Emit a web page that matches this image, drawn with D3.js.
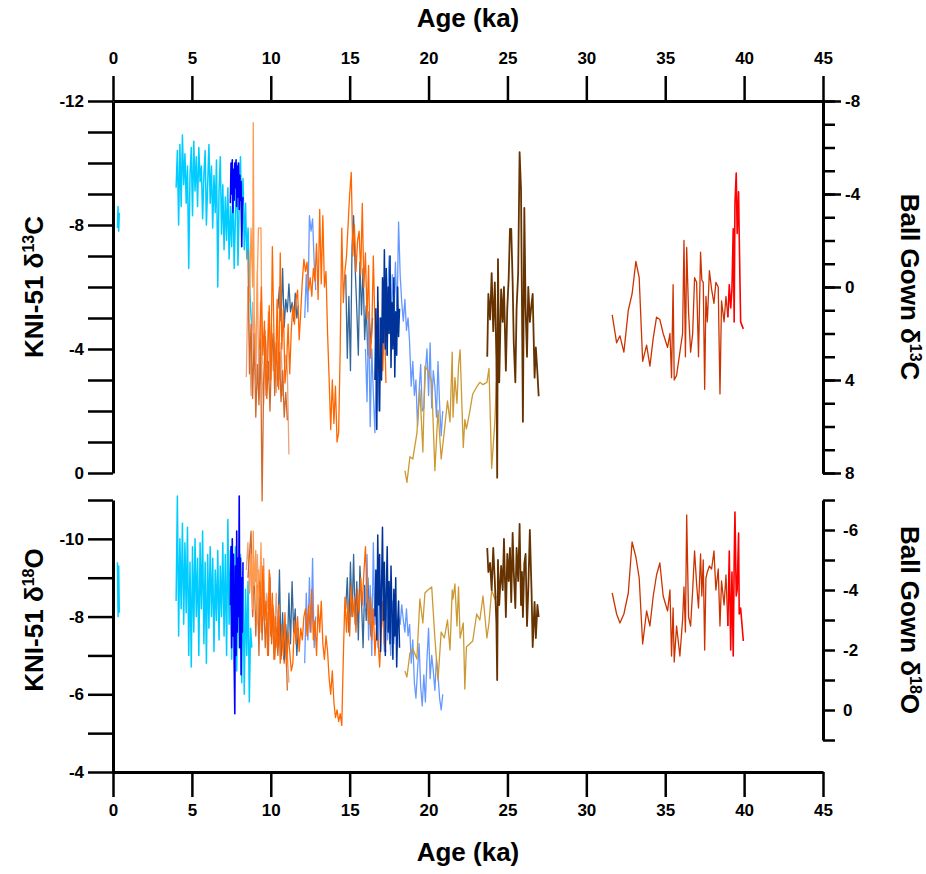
<!DOCTYPE html>
<meta charset="utf-8">
<style>
body { margin: 0; background: #fff; }
svg { display: block; }
.axis path, .axis line { stroke: #000; stroke-width: 2.5px; }
.axis path.domain { stroke-width: 3px; }
.axis text { font: bold 17px "Liberation Sans", Arial, sans-serif; fill: #000; }
.title { font: bold 26px "Liberation Sans", Arial, sans-serif; fill: #000; }
.line { fill: none; stroke-linejoin: round; }
</style>
<body>
<script src="https://d3js.org/d3.v7.min.js"></script>
<script>

// ---- KNI-51 records (left axes) ----
var cyanAge = [0.28, 0.32, 0.36, 0.40, 2.00,
  4.00, 4.08, 4.16, 4.24, 4.32, 4.40, 4.48, 4.56, 4.64, 4.72,
  4.80, 4.88, 4.96, 5.04, 5.12, 5.20, 5.28, 5.36, 5.44, 5.52,
  5.60, 5.68, 5.76, 5.84, 5.92, 6.00, 6.08, 6.16, 6.24, 6.32,
  6.40, 6.48, 6.56, 6.64, 6.72, 6.80, 6.88, 6.96, 7.04, 7.12,
  7.20, 7.28, 7.36, 7.44, 7.52, 7.60, 7.68, 7.76, 7.84, 7.92,
  8.00, 8.08, 8.16, 8.24, 8.32, 8.40, 8.48, 8.56, 8.64, 8.72,
  8.80];
var cyanC = [-7.9, -8.6, -7.8, -8.4, null,
  -9.2, -10.4, -8.0, -10.6, -8.6, -10.9, -9.3, -10.3, -8.7, -9.9,
  -6.6, -9.6, -10.5, -8.3, -10.7, -9.1, -10.2, -8.6, -10.5, -9.4,
  -9.9, -8.2, -9.6, -10.4, -8.0, -9.3, -10.6, -8.7, -9.9, -7.9,
  -9.6, -8.4, -10.1, -6.0, -9.1, -10.2, -7.7, -9.3, -7.2, -8.9,
  -7.5, -9.2, -6.9, -8.6, -7.3, -9.3, -6.6, -8.3, -10.0, -6.7,
  -8.7, -10.2, -7.8, -9.5, -7.2, -8.7, -6.9, -7.9, -6.4, -5.3,
  -4.7];
var cyanO = [-9.4, -8.0, -9.3, -8.1, null,
  -8.4, -11.1, -7.5, -10.0, -8.2, -10.4, -7.8, -9.9, -8.1, -10.3,
  -7.0, -9.4, -6.7, -9.8, -7.6, -10.0, -8.0, -9.5, -7.0, -9.9,
  -8.2, -10.2, -7.3, -9.4, -6.8, -9.6, -7.7, -9.8, -8.0, -9.5,
  -7.1, -9.2, -7.9, -9.7, -7.4, -9.3, -8.0, -9.9, -7.5, -9.6,
  -7.0, -10.5, -7.8, -9.7, -6.9, -9.4, -7.6, -9.8, -6.6, -9.2,
  -7.2, -9.6, -6.3, -9.0, -6.0, -8.7, -7.0, -8.9, -5.8, -7.7,
  -7.2];

var blueAge = [7.44, 7.48, 7.52, 7.56, 7.60, 7.64, 7.68, 7.72, 7.76, 7.80,
  7.84, 7.88, 7.92, 7.96, 8.00, 8.04, 8.08, 8.12, 8.16, 8.20, 8.24];
var blueC = [-8.7, -10.0, -9.0, -10.1, -8.4, -9.8, -8.8, -10.0, -9.2, -10.1,
  -8.6, -9.9, -8.9, -10.0, -8.5, -9.6, -8.8, -9.4, -7.3, -8.6, -8.9];
var blueO = [-8.3, -9.8, -7.2, -10.0, -7.5, -9.6, -6.8, -5.5, -9.3, -7.0,
  -10.2, -7.6, -9.5, -8.0, -11.1, -7.2, -9.5, -6.5, -9.0, -7.6, -9.4];

var salmonAge = [8.45, 8.55, 8.65, 8.75, 8.85, 8.95, 9.05, 9.15, 9.25, 9.35,
  9.45, 9.55, 9.65, 9.75, 9.85, 9.95, 10.05, 10.15, 10.25, 10.35,
  10.45, 10.55, 10.65, 10.75, 10.85, 10.95, 11.05, 11.15];
var salmonC = [-3.1, -6.0, -4.2, -2.5, -5.5, -4.0, -3.0, -6.5, -2.4, -5.5,
  -3.0, -2.2, -4.6, -3.4, -5.2, -3.0, -4.8, -3.3, -4.0, -2.6,
  -3.6, -3.0, -4.2, -2.5, -3.2, -3.8, -3.3, -0.6];
var salmonO = [-9.2, -9.9, -8.6, -9.7, -8.0, -9.3, -8.9, -9.6, -7.8, -9.0,
  -8.3, -9.5, -7.9, -8.6, -8.0, -9.1, -7.4, -8.3, -7.6, -8.6,
  -7.2, -8.0, -7.4, -7.8, -6.9, -7.6, -7.0, -6.3];

var chocAge = [8.55, 8.65, 8.75, 8.85, 8.95, 9.05, 9.15, 9.25, 9.35, 9.45,
  9.55, 9.65, 9.75, 9.85, 9.95, 10.05, 10.15, 10.25, 10.35, 10.45,
  10.55, 10.65, 10.75, 10.85, 10.95, 11.05];
var chocC = [-7.2, -3.2, -4.8, -2.4, -4.5, -1.8, -3.5, -2.2, -4.3, 0.9,
  -3.0, -4.4, -2.4, -3.6, -2.0, -3.8, -4.5, -2.5, -4.2, -2.8,
  -3.9, -2.3, -3.3, -1.8, -2.6, -1.7];
var chocO = [-9.0, -9.6, -10.2, -8.0, -9.2, -7.5, -8.8, -7.0, -9.3, -7.4,
  -8.6, -7.2, -8.1, -7.0, -9.0, -7.3, -8.2, -6.9, -7.7, -7.0,
  -7.9, -6.9, -7.5, -6.8, -7.4, -6.1];

var lightAge = [8.65, 8.75, 8.85, 8.89, 8.95, 9.05, 9.15, 9.22, 9.30, 9.38, 9.45];
var lightC = [-5.5, -7.9, -6.0, -11.3, -5.2, -3.6, -6.4, -7.9, -7.9, -7.9, -3.5];
var lightO = [-8.6, -9.6, -8.2, -10.2, -8.8, -9.7, -7.8, -9.2, -8.5, -9.9, -8.0];

var steelAge = [10.45, 10.55, 10.65, 10.75, 10.85, 10.95, 11.05, 11.15, 11.25, 11.35,
  11.45, 11.55, 11.65, 11.75, 13.0,
  14.75, 14.85, 14.95, 15.05, 15.15, 15.25, 15.35, 15.45, 15.55, 15.65,
  15.75, 15.85, 15.95, 16.05, 16.15, 16.25, 16.35, 16.45];
var steelC = [-5.3, -6.0, -4.9, -6.6, -4.7, -5.6, -5.2, -6.1, -5.2, -5.5,
  -4.9, -5.8, -5.0, -5.4, null,
  -6.4, -3.7, -5.7, -3.3, -7.3, -8.3, -6.6, -5.3, -3.8, -6.8,
  -5.1, -6.6, -4.3, -5.4, -3.8, -4.9, -4.2, -5.0];
var steelO = [-7.5, -9.2, -7.0, -8.1, -6.9, -7.8, -7.1, -8.6, -7.3, -8.9,
  -7.6, -8.2, -7.0, -7.7, null,
  -8.2, -9.0, -7.6, -9.4, -8.0, -9.6, -7.8, -8.9, -7.4, -9.3,
  -8.4, -7.2, -8.8, -7.9, -9.0, -8.1, -7.5, -8.6];

var cornAge = [12.15, 12.25, 12.35, 12.45, 12.55, 12.65, 12.75, 12.85, 14.0,
  16.0, 16.1, 16.2, 16.3, 16.4, 16.5, 16.6, 16.7, 16.8, 16.9,
  17.0, 17.1, 17.2, 17.3, 17.4, 17.5, 17.6, 17.7, 17.8, 17.9,
  18.0, 18.1, 18.2, 18.3, 18.4, 18.5, 18.6, 18.7, 18.8, 18.9,
  19.0, 19.1, 19.2, 19.3, 19.4, 19.5, 19.6, 19.7, 19.8, 19.9,
  20.0, 20.1, 20.2, 20.3, 20.4, 20.5, 20.6, 20.7, 20.8, 20.9];
var cornC = [-5.0, -6.4, -5.2, -8.3, -7.8, -8.2, -6.8, -5.9, null,
  -4.0, -2.3, -5.2, -1.5, -4.0, -2.6, -1.3, -3.6, -2.0, -5.0,
  -3.0, -4.6, -6.0, -3.8, -5.5, -7.0, -4.5, -6.4, -5.2, -6.8,
  -5.0, -8.1, -6.4, -5.5, -4.9, -5.6, -4.6, -5.0, -4.2, -2.8,
  -3.6, -2.5, -3.0, -1.5, -2.6, -3.5, -2.0, -2.1, -3.3, -4.0,
  -2.5, -4.2, -2.1, -3.3, -2.8, -1.8, -3.6, -2.2, -1.2, -2.0];
var cornO = [-6.8, -8.6, -7.4, -9.0, -7.6, -9.5, -7.2, -8.0, null,
  -8.2, -9.6, -7.4, -8.8, -7.0, -9.9, -7.8, -8.5, -7.2, -8.9,
  -7.6, -8.3, -7.1, -8.6, -7.4, -8.0, -7.0, -8.4, -7.3, -8.1,
  -7.6, -8.0, -7.8, -8.3, -7.9, -7.6, -8.2, -7.5, -7.8, -6.8,
  -7.4, -6.3, -5.9, -6.6, -7.3, -6.2, -5.7, -6.5, -5.8, -6.9,
  -7.7, -6.4, -7.0, -6.6, -6.1, -6.9, -6.5, -5.9, -5.6, -6.0];

var orangeAge = [9.3, 9.4, 9.5, 9.6, 9.7, 9.8, 9.9, 10.0, 10.1, 10.2,
  10.3, 10.4, 10.5, 10.6, 10.7, 10.8, 10.9, 11.0, 11.1, 11.2,
  11.3, 11.4, 11.5, 11.6, 11.7, 11.8, 11.9, 12.0, 12.1, 12.2,
  12.3, 12.4, 12.5, 12.6, 12.7, 12.8, 12.9, 13.0, 13.1, 13.2,
  13.3, 13.4, 13.5, 13.6, 13.7, 13.8, 13.9, 14.0, 14.1, 14.2,
  14.3, 14.4, 14.5, 14.6, 14.7, 14.8, 14.9, 15.0, 15.1, 15.2,
  15.3, 15.4, 15.5, 15.6, 15.7, 15.8, 15.9, 16.0, 16.1, 16.2,
  16.3, 16.4, 16.5, 16.6, 16.7, 16.8, 16.9, 17.0, 17.1, 17.2,
  17.3];
var orangeC = [-4.0, -6.0, -3.8, -4.9, -2.5, -3.6, -5.4, -3.0, -7.3, -4.5,
  -3.0, -5.6, -2.7, -7.1, -4.0, -5.3, -2.9, -3.5, -4.8, -3.2,
  -4.6, -5.4, -4.8, -5.6, -5.9, -4.3, -5.2, -6.2, -6.9, -6.5,
  -6.8, -5.9, -6.3, -5.7, -6.6, -6.2, -7.4, -5.6, -8.5, -6.1,
  -8.3, -6.0, -6.5, -4.5, -3.0, -1.4, -3.0, -1.6, -2.8, -1.0,
  -1.3, -4.0, -7.9, -5.5, -6.5, -7.0, -8.0, -9.0, -9.7, -7.0,
  -8.0, -6.5, -7.5, -7.8, -6.4, -8.7, -6.0, -7.1, -5.0, -6.7,
  -3.7, -4.5, -7.0, -4.8, -3.5, -5.5, -2.9, -4.2, -3.3, -5.0,
  -2.9];
var orangeO = [-8.9, -7.6, -9.3, -7.9, -8.4, -7.0, -9.2, -7.5, -8.6, -6.9,
  -8.0, -7.2, -8.3, -6.8, -7.8, -7.0, -8.1, -6.7, -7.6, -7.1,
  -6.6, -6.8, -7.9, -7.3, -8.0, -7.1, -7.7, -7.4, -8.0, -8.2,
  -7.5, -8.3, -7.6, -8.7, -7.4, -7.9, -7.0, -8.3, -7.6, -8.4,
  -7.3, -6.9, -7.5, -7.1, -6.4, -6.0, -6.6, -5.8, -5.4, -5.6,
  -5.3, -5.5, -5.2, -7.0, -8.5, -7.6, -8.4, -7.5, -8.8, -8.0,
  -8.5, -7.6, -8.7, -8.1, -9.0, -8.3, -9.1, -9.8, -8.6, -7.8,
  -8.5, -7.4, -8.2, -7.0, -7.7, -7.4, -6.7, -7.6, -8.4, -7.3,
  -7.1];

var navyAge = [16.60, 16.66, 16.72, 16.78, 16.84, 16.90, 16.96, 17.02, 17.08, 17.14,
  17.20, 17.26, 17.32, 17.38, 17.44, 17.50, 17.56, 17.62, 17.68, 17.74,
  17.80, 17.86, 17.92, 17.98, 18.04, 18.10, 18.16];
var navyC = [-3.0, -5.3, -1.4, -6.0, -3.5, -2.0, -5.0, -3.0, -6.3, -4.2,
  -7.2, -4.0, -6.6, -3.8, -6.0, -4.5, -7.0, -3.4, -5.5, -4.0,
  -6.3, -3.1, -5.2, -3.8, -6.0, -4.4, -5.3];
var navyO = [-8.0, -9.2, -7.4, -10.1, -8.3, -9.6, -7.1, -8.8, -10.3, -7.9,
  -9.4, -7.0, -8.6, -9.8, -7.6, -8.9, -7.3, -9.3, -8.1, -6.9,
  -8.7, -7.5, -9.0, -6.7, -7.8, -8.4, -7.2];

// ---- Ball Gown records (right axes) ----
var tanAge = [18.50, 18.63, 18.82, 19.00, 19.26, 19.45, 19.64, 19.77, 19.96, 20.20,
  20.40, 20.60, 20.80, 21.00, 21.20, 21.36, 21.50, 21.55, 21.67, 21.80,
  21.90, 22.00, 22.20, 22.30, 22.40, 22.60, 22.80, 23.05, 23.25, 23.45,
  23.70, 23.83, 24.00, 24.20, 24.30];
var tanC = [7.9, 8.4, 7.3, 7.4, 6.3, 4.4, 7.1, 3.4, 3.6, 4.1,
  7.9, 5.3, 7.4, 6.2, 4.9, 5.8, 2.8, 5.6, 3.9, 5.0,
  3.4, 2.7, 6.9, 5.7, 6.1, 5.4, 4.6, 4.3, 4.1, 4.2,
  4.1, 3.5, 7.8, 5.8, 4.1];
var tanO = [-1.3, -1.1, -1.9, -2.05, -1.7, -3.7, -2.9, -3.9, -4.0, -4.1,
  -2.4, -1.0, -2.6, -2.4, -3.0, -2.0, -4.0, -3.7, -4.2, -2.8,
  -4.1, -2.4, -2.9, -0.7, -2.1, -2.2, -2.3, -3.2, -3.0, -3.8,
  -2.4, -2.9, -4.0, -3.7, -3.8];

var brownAge = [23.72, 23.79, 23.90, 24.00, 24.10, 24.20, 24.30, 24.35, 24.40, 24.48,
  24.60, 24.70, 24.78, 24.90, 24.99, 25.08, 25.16, 25.24, 25.33, 25.40,
  25.50, 25.58, 25.68, 25.77, 25.86, 25.92, 25.98, 26.07, 26.15, 26.24,
  26.32, 26.42, 26.53, 26.60, 26.72, 26.80, 26.90, 26.98];
var brownC = [3.0, 0.3, 1.4, -0.6, 1.9, -0.2, 3.1, 8.2, -1.2, 4.1,
  0.1, 1.5, 0.0, 3.6, 0.9, -0.4, -2.5, -2.5, -0.2, 2.4,
  4.1, 0.9, -0.6, -5.8, -4.2, 0.7, 5.8, -3.4, 0.9, 3.0,
  0.0, 1.5, 0.7, 0.3, 3.9, 2.6, 3.7, 4.7];
var brownO = [-5.4, -4.6, -4.9, -4.0, -5.4, -4.3, -2.9, -1.0, -5.0, -3.5,
  -4.8, -4.0, -5.7, -3.1, -5.2, -4.3, -5.4, -3.6, -5.9, -4.6,
  -3.4, -5.4, -4.3, -6.2, -3.5, -4.6, -3.1, -4.9, -5.2, -2.8,
  -4.0, -6.0, -3.9, -2.1, -3.6, -2.4, -3.5, -3.1];

var rustAge = [31.64, 31.92, 32.13, 32.38, 32.66, 32.90, 33.14, 33.35, 33.57, 33.82,
  34.03, 34.24, 34.45, 34.66, 34.87, 35.15, 35.30, 35.40, 35.50, 35.57,
  35.72, 35.93, 36.10, 36.19, 36.28, 36.36, 36.48, 36.61, 36.74, 36.86,
  36.99, 37.11, 37.24, 37.32, 37.41, 37.50, 37.58, 37.67, 37.80, 37.94,
  38.09, 38.21, 38.36, 38.47, 38.57, 38.73, 38.85, 38.97];
var rustC = [1.2, 2.4, 2.1, 2.8, 1.0, 0.3, -1.1, -0.4, 3.2, 2.5,
  3.4, 2.2, 1.3, 1.4, 2.0, 2.6, 2.0, 3.9, -0.1, 4.0,
  3.8, 2.8, 2.0, -2.0, 3.0, -1.7, 1.1, 2.8, 2.0, -0.4,
  -0.2, 3.0, -1.5, -0.3, -0.2, 4.4, 0.4, 1.5, -0.7, 0.1,
  0.7, -0.2, 0.0, 4.6, 0.6, 1.5, 0.4, 1.3];
var rustO = [-3.9, -3.2, -2.9, -3.2, -3.9, -5.6, -5.1, -4.4, -2.2, -3.3,
  -2.8, -3.8, -4.5, -4.9, -3.8, -3.3, -4.0, -1.8, -3.4, -1.6,
  -2.8, -1.8, -3.0, -4.1, -2.6, -6.5, -3.1, -2.8, -4.0, -5.3,
  -4.2, -3.4, -5.2, -3.8, -5.0, -2.0, -4.4, -4.6, -4.8, -4.7,
  -5.3, -4.0, -4.7, -2.8, -4.3, -3.5, -4.5, -2.8];

var redAge = [38.97, 39.06, 39.15, 39.23, 39.31, 39.37, 39.42, 39.50, 39.56, 39.65,
  39.69, 39.78, 39.95];
var redC = [1.3, -0.1, 0.9, 0.1, -2.5, 1.5, -3.6, -4.9, -2.3, -4.1, -2.2, 1.5, 1.8];
var redO = [-2.8, -5.3, -2.0, -4.6, -1.8, -4.9, -6.6, -3.8, -4.0, -5.9, -3.2, -3.4, -2.3];

var ageTicks = [0, 5, 10, 15, 20, 25, 30, 35, 40, 45];

// series table built from the arrays above
var series = [
  {age: cyanAge,   c: cyanC,   o: cyanO,   color: "#00CCFF", w: 1.5, bg: false},
  {age: blueAge,   c: blueC,   o: blueO,   color: "#0000FF", w: 1.6, bg: false},
  {age: salmonAge, c: salmonC, o: salmonO, color: "#E9A27C", w: 1.3, bg: false},
  {age: chocAge,   c: chocC,   o: chocO,   color: "#D2692A", w: 1.3, bg: false},
  {age: lightAge,  c: lightC,  o: lightO,  color: "#FF9A4D", w: 1.3, bg: false},
  {age: steelAge,  c: steelC,  o: steelO,  color: "#336699", w: 1.3, bg: false},
  {age: cornAge,   c: cornC,   o: cornO,   color: "#6699FF", w: 1.3, bg: false},
  {age: orangeAge, c: orangeC, o: orangeO, color: "#FF6600", w: 1.3, bg: false},
  {age: navyAge,   c: navyC,   o: navyO,   color: "#003399", w: 1.5, bg: false},
  {age: tanAge,    c: tanC,    o: tanO,    color: "#CC9933", w: 1.3, bg: true},
  {age: brownAge,  c: brownC,  o: brownO,  color: "#663300", w: 1.8, bg: true},
  {age: rustAge,   c: rustC,   o: rustO,   color: "#CC3300", w: 1.3, bg: true},
  {age: redAge,    c: redC,    o: redO,    color: "#FF0000", w: 1.6, bg: true}
];

var width = 926, height = 874;

var x = d3.scaleLinear().domain([0, 45]).range([113, 823]);
var yC = d3.scaleLinear().domain([-12, 0]).range([101, 473]);
var yCbg = d3.scaleLinear().domain([-8, 8]).range([101, 473]);
var yO = d3.scaleLinear().domain([-11, -4]).range([500, 772]);
var yObg = d3.scaleLinear().domain([-7, 1]).range([500, 740]);

var fmt = function(d) { return String(d); };

var svg = d3.select("body").append("svg")
    .attr("width", width)
    .attr("height", height);

function lineFor(ys) {
  return d3.line()
    .defined(function(d) { return d[1] != null; })
    .x(function(d) { return x(d[0]); })
    .y(function(d) { return ys(d[1]); });
}

series.forEach(function(s) {
  var top = s.age.map(function(a, i) { return [a, s.c[i]]; });
  var bot = s.age.map(function(a, i) { return [a, s.o[i]]; });
  svg.append("path").attr("class", "line")
    .attr("d", lineFor(s.bg ? yCbg : yC)(top))
    .style("stroke", s.color).style("stroke-width", s.w);
  svg.append("path").attr("class", "line")
    .attr("d", lineFor(s.bg ? yObg : yO)(bot))
    .style("stroke", s.color).style("stroke-width", s.w);
});

// x axes
svg.append("g").attr("class", "axis")
    .attr("transform", "translate(0,101)")
    .call(d3.axisTop(x).tickValues(ageTicks).tickSize(25).tickSizeOuter(0).tickPadding(12).tickFormat(fmt));
svg.append("g").attr("class", "axis")
    .attr("transform", "translate(0,772)")
    .call(d3.axisBottom(x).tickValues(ageTicks).tickSize(25).tickSizeOuter(0).tickPadding(7).tickFormat(fmt));

// left axes
svg.append("g").attr("class", "axis")
    .attr("transform", "translate(113,0)")
    .call(d3.axisLeft(yC).tickValues(d3.range(-12, 1)).tickSize(25).tickSizeOuter(0).tickPadding(4)
      .tickFormat(function(d) { return d % 4 === 0 ? fmt(d) : ""; }));
svg.append("g").attr("class", "axis")
    .attr("transform", "translate(113,0)")
    .call(d3.axisLeft(yO).tickValues(d3.range(-11, -3)).tickSize(25).tickSizeOuter(0).tickPadding(4)
      .tickFormat(function(d) { return d % 2 === 0 ? fmt(d) : ""; }));

// right axes
svg.append("g").attr("class", "axis")
    .attr("transform", "translate(823,0)")
    .call(d3.axisRight(yCbg).tickValues(d3.range(-8, 9)).tickSize(12).tickSizeOuter(0).tickFormat(""));
svg.append("g").attr("class", "axis")
    .attr("transform", "translate(823,0)")
    .call(d3.axisRight(yCbg).tickValues([-8, -4, 0, 4, 8]).tickSize(18).tickSizeOuter(0).tickPadding(4).tickFormat(fmt));
svg.append("g").attr("class", "axis")
    .attr("transform", "translate(823,0)")
    .call(d3.axisRight(yObg).tickValues(d3.range(-7, 2)).tickSize(12).tickSizeOuter(0).tickPadding(8)
      .tickFormat(function(d) { return d % 2 === 0 ? fmt(d) : ""; }));

// titles
svg.append("text").attr("class", "title")
    .attr("x", 468).attr("y", 27).attr("text-anchor", "middle").text("Age (ka)");
svg.append("text").attr("class", "title")
    .attr("x", 468).attr("y", 861).attr("text-anchor", "middle").text("Age (ka)");

function isoTitle(tx, ty, rot, pre, sup, post) {
  var t = svg.append("text").attr("class", "title")
    .attr("transform", "translate(" + tx + "," + ty + ") rotate(" + rot + ")")
    .attr("text-anchor", "middle");
  t.append("tspan").text(pre);
  t.append("tspan").attr("dy", -9).style("font-size", "16px").text(sup);
  t.append("tspan").attr("dy", 9).text(post);
}
isoTitle(43, 287, -90, "KNI-51 \u03b4", "13", "C");
isoTitle(43, 620, -90, "KNI-51 \u03b4", "18", "O");
isoTitle(901, 287, 90, "Ball Gown \u03b4", "13", "C");
isoTitle(901, 620, 90, "Ball Gown \u03b4", "18", "O");

</script>
</body>
